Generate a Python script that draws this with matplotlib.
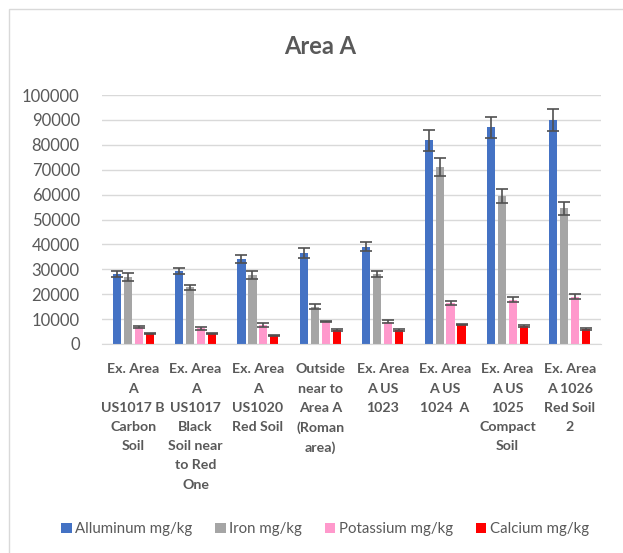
import matplotlib
matplotlib.use("Agg")
import matplotlib.pyplot as plt
import numpy as np
from matplotlib.patches import Rectangle, Patch

plt.rcParams['font.family'] = ['Lato', 'DejaVu Sans']

categories = [
    "Ex. Area\nA\nUS1017 B\nCarbon\nSoil",
    "Ex. Area\nA\nUS1017\nBlack\nSoil near\nto Red\nOne",
    "Ex. Area\nA\nUS1020\nRed Soil",
    "Outside\nnear to\nArea A\n(Roman\narea)",
    "Ex. Area\nA US\n1023",
    "Ex. Area\nA US\n1024  A",
    "Ex. Area\nA US\n1025\nCompact\nSoil",
    "Ex. Area\nA 1026\nRed Soil\n2",
]
series_names = ["Alluminum mg/kg", "Iron mg/kg", "Potassium mg/kg", "Calcium mg/kg"]
aluminum = [28300, 29400, 34300, 36500, 39100, 81900, 87000, 90000]
aluminum_err = [1200, 1300, 1600, 2000, 1900, 4200, 4300, 4500]
iron = [27000, 22800, 27800, 15000, 28100, 71000, 59400, 54600]
iron_err = [1600, 1000, 1700, 1100, 1200, 3500, 2900, 2600]
potassium = [6900, 6300, 7600, 9000, 9000, 16600, 17700, 19000]
potassium_err = [300, 700, 700, 300, 700, 800, 1000, 1000]
calcium = [4300, 4300, 3600, 5600, 5600, 7900, 7200, 6000]
calcium_err = [300, 300, 200, 300, 300, 300, 300, 300]
yticks = [0, 10000, 20000, 30000, 40000, 50000, 60000, 70000, 80000, 90000, 100000]

colors = ["#4472C4", "#A5A5A5", "#FF99CC", "#FF0000"]
text_color = "#595959"

W, H = 623, 553
fig = plt.figure(figsize=(W / 100, H / 100), dpi=100)

# chart area border
fig.patches.append(Rectangle((9 / W, -0.2), 1.5, (H - 9) / H + 0.2, transform=fig.transFigure,
                             fill=False, edgecolor="#D9D9D9", linewidth=1.0))

ax = fig.add_axes([102 / W, (H - 344) / H, (601 - 102) / W, (344 - 95) / H])

x = np.arange(len(categories))
step = 0.176
bw = 0.13
data = [(aluminum, aluminum_err), (iron, iron_err), (potassium, potassium_err), (calcium, calcium_err)]
for i, ((vals, errs), c) in enumerate(zip(data, colors)):
    pos = x + (i - 1.5) * step
    ax.bar(pos, vals, width=bw, color=c, zorder=2)
    ax.errorbar(pos, vals, yerr=errs, fmt='none', ecolor="#505050", elinewidth=1.2,
                capsize=4.3, capthick=1.2, zorder=3)

ax.set_xlim(-0.5, len(categories) - 0.5)
ax.set_ylim(0, 100000)
ax.set_yticks(yticks)
ax.set_yticklabels([str(v) for v in yticks], fontsize=12, color=text_color)
ax.set_xticks(x)
ax.set_xticklabels(categories, fontsize=10.2, fontweight='bold', color=text_color,
                   linespacing=1.72, va='top')
ax.tick_params(axis='both', length=0)
ax.tick_params(axis='x', pad=14)
ax.tick_params(axis='y', pad=16)
ax.grid(axis='y', color="#D9D9D9", linewidth=1.0, zorder=0)
ax.set_axisbelow(True)
for s in ["top", "right", "left"]:
    ax.spines[s].set_visible(False)
ax.spines["bottom"].set_color("#D9D9D9")

fig.text(320 / W, 1 - 47 / H, "Area A", ha='center', va='center', fontsize=17,
         fontweight='bold', color=text_color)

handles = [Patch(facecolor=c, edgecolor='none') for c in colors]
leg = fig.legend(handles, series_names, loc='center', bbox_to_anchor=(325 / W, 1 - 529 / H),
                 ncol=4, frameon=False, fontsize=10.8, handlelength=0.7, handleheight=0.7,
                 handletextpad=0.25, columnspacing=1.5)
for t in leg.get_texts():
    t.set_color(text_color)

fig.savefig("out.png", dpi=100)
